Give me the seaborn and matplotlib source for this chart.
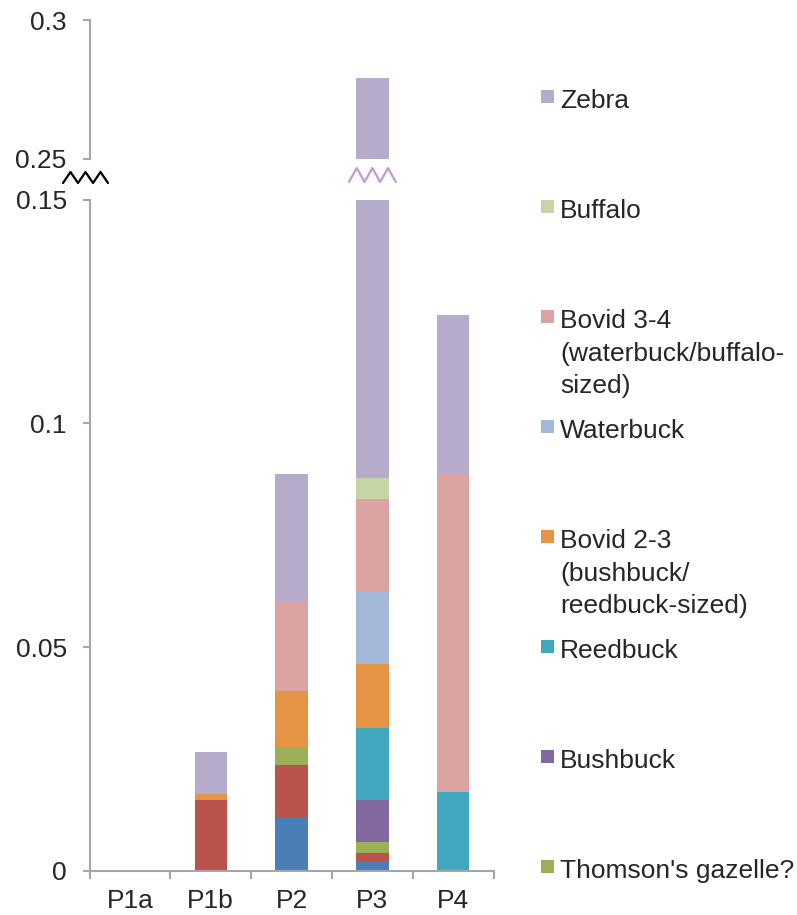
import matplotlib
matplotlib.use("Agg")
import matplotlib.pyplot as plt
import matplotlib.transforms as mtransforms
from matplotlib.patches import Rectangle
import numpy as np
import pandas as pd
import seaborn as sns

# sites along the x axis
sites = ["P1a", "P1b", "P2", "P3", "P4"]

# taxa, stacked bottom -> top (first two are off the bottom of the legend)
taxa = ["Bovid 1", "Bovid 1-2", "Thomson's gazelle?", "Bushbuck", "Reedbuck",
        "Bovid 2-3 (bushbuck/reedbuck-sized)", "Waterbuck",
        "Bovid 3-4 (waterbuck/buffalo-sized)", "Buffalo", "Zebra"]

colors = ["#4A7EB4", "#BA534C", "#9AAF57", "#81689E", "#41A7BE",
          "#E49443", "#A3B7D9", "#DBA3A1", "#C5D5A6", "#B6ABCB"]

# values per site (P1a, P1b, P2, P3, P4)
bovid_1 = [0, 0, 0.0118, 0.0022, 0]
bovid_1_2 = [0, 0.0159, 0.0119, 0.0018, 0]
thomsons = [0, 0, 0.0041, 0.0024, 0]
bushbuck = [0, 0, 0, 0.0095, 0]
reedbuck = [0, 0, 0, 0.0161, 0.0177]
bovid_2_3 = [0, 0.0012, 0.0125, 0.0143, 0]
waterbuck = [0, 0, 0, 0.0160, 0]
bovid_3_4 = [0, 0, 0.0197, 0.0209, 0.0709]
buffalo = [0, 0, 0, 0.0047, 0]
zebra = [0, 0.0095, 0.0286, 0.1911, 0.0357]

series = [bovid_1, bovid_1_2, thomsons, bushbuck, reedbuck,
          bovid_2_3, waterbuck, bovid_3_4, buffalo, zebra]

# legend entries (top -> bottom), with wrapped lines
legend_labels = [
    ["Zebra"],
    ["Buffalo"],
    ["Bovid 3-4", "(waterbuck/buffalo-", "sized)"],
    ["Waterbuck"],
    ["Bovid 2-3", "(bushbuck/", "reedbuck-sized)"],
    ["Reedbuck"],
    ["Bushbuck"],
    ["Thomson's gazelle?"],
]
legend_colors = ["#B6ABCB", "#C5D5A6", "#DBA3A1", "#A3B7D9",
                 "#E49443", "#41A7BE", "#81689E", "#9AAF57"]

df = pd.DataFrame(np.array(series).T, index=sites, columns=taxa)
cum = df.cumsum(axis=1)

sns.set_style("white")
plt.rcParams["font.family"] = ["Liberation Sans", "DejaVu Sans"]
FS = 19
plt.rcParams["font.size"] = FS

W, H = 797, 915
fig = plt.figure(figsize=(W / 100, H / 100), dpi=100)


def fx(x):
    return x / W


def fy(y):
    return 1 - y / H


left, right = 89.5, 493.6
ax = fig.add_axes([fx(left), fy(871), fx(right - left), (871 - 199.5) / H])
ax_top = fig.add_axes([fx(left), fy(159), fx(right - left), (159 - 20) / H])

axis_grey = "#A6A6A6"

for a in (ax, ax_top):
    # draw from the top of the stack downwards so lower segments cover
    for name, c in reversed(list(zip(taxa, colors))):
        sns.barplot(x=sites, y=cum[name].values, order=sites, color=c,
                    saturation=1, width=0.4, errorbar=None, linewidth=0,
                    ax=a)
    a.set_xlim(-0.5, len(sites) - 0.5)
    a.set_xlabel("")
    a.set_ylabel("")
    for s in ("top", "right"):
        a.spines[s].set_visible(False)
    a.spines["left"].set_color(axis_grey)
    a.spines["left"].set_linewidth(1.5)
    a.tick_params(axis="y", direction="out", length=5.4, width=1.5,
                  color=axis_grey, pad=11, labelsize=FS, left=True)

ax.set_ylim(0, 0.15)
ax.set_yticks([0, 0.05, 0.1, 0.15])
ax.set_yticklabels(["0", "0.05", "0.1", "0.15"])
ax.spines["bottom"].set_color(axis_grey)
ax.spines["bottom"].set_linewidth(1.5)
ax.set_xticks(range(len(sites)))
ax.set_xticklabels(sites)
ax.set_xticks(np.arange(-0.5, len(sites), 1), minor=True)
ax.tick_params(axis="x", which="major", length=0, pad=13, labelsize=FS)
ax.tick_params(axis="x", which="minor", direction="out", length=5.5,
               width=1.5, color=axis_grey, bottom=True)

ax_top.set_ylim(0.25, 0.3)
ax_top.set_yticks([0.25, 0.3])
ax_top.set_yticklabels(["0.25", "0.3"])
ax_top.spines["bottom"].set_visible(False)
ax_top.set_xticks([])

# axis break marks
zig_y = np.array([0, 1, 0, 1, 0, 1, 0])
lx = np.linspace(-0.0656, 0.0458, 7)
ly = 1 + (199.5 - 183) / 672 + zig_y * (11 / 672)
ax.plot(lx, ly, color="black", lw=1.6, transform=ax.transAxes, clip_on=False)

blend = mtransforms.blended_transform_factory(ax.transData, ax.transAxes)
bx = np.linspace(3 - 0.29, 3 + 0.29, 7)
by = 1 + (199.5 - 182) / 672 + zig_y * (14 / 672)
ax.plot(bx, by, color="#C39BD3", lw=1.6, transform=blend, clip_on=False)

# legend
for i, (lines, c) in enumerate(zip(legend_labels, legend_colors)):
    yc = 99.5 + 110 * i
    fig.add_artist(Rectangle((fx(541), fy(yc + 3.5)), 13 / W, 13 / H,
                             transform=fig.transFigure, color=c, lw=0))
    for k, line in enumerate(lines):
        fig.text(fx(560), fy(yc + 8.5 + 32.5 * k), line, fontsize=FS,
                 va="baseline", ha="left")

fig.savefig("out.png", dpi=100)
